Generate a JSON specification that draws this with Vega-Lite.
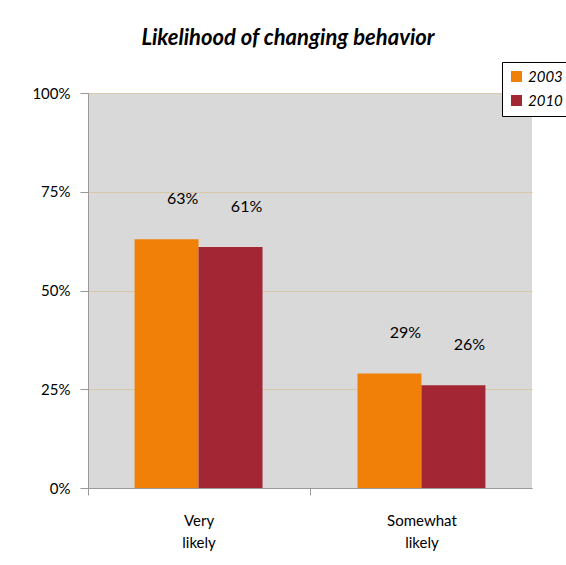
{
  "$schema": "https://vega.github.io/schema/vega-lite/v6.json",
  "autosize": "none",
  "width": 444,
  "height": 395,
  "padding": {"left": 88, "top": 93, "right": 34, "bottom": 77},
  "background": "white",
  "title": {
    "text": "Likelihood of changing behavior",
    "font": "Lato",
    "fontSize": 22,
    "fontWeight": "bold",
    "fontStyle": "italic",
    "color": "black",
    "anchor": "middle",
    "dx": -22,
    "offset": 12
  },
  "data": {
    "values": [
      {"category": "Very likely", "year": "2003", "value": 0.63, "label": "63%"},
      {"category": "Very likely", "year": "2010", "value": 0.61, "label": "61%"},
      {"category": "Somewhat likely", "year": "2003", "value": 0.29, "label": "29%"},
      {"category": "Somewhat likely", "year": "2010", "value": 0.26, "label": "26%"}
    ]
  },
  "encoding": {
    "x": {
      "field": "category",
      "type": "nominal",
      "sort": ["Very likely", "Somewhat likely"],
      "scale": {"paddingInner": 0.426, "paddingOuter": 0.209},
      "axis": {
        "title": null,
        "labelAngle": 0,
        "labelFont": "Lato",
        "labelFontSize": 15,
        "labelColor": "black",
        "labelPadding": 18,
        "labelExpr": "split(datum.label, ' ')",
        "labelLineHeight": 22,
        "tickOffset": -111,
        "labelOffset": 111,
        "tickColor": "#999999",
        "tickSize": 7,
        "domainColor": "#999999"
      }
    },
    "xOffset": {"field": "year", "type": "nominal", "sort": ["2003", "2010"]},
    "y": {
      "field": "value",
      "type": "quantitative",
      "scale": {"domain": [0, 1]},
      "axis": {
        "title": null,
        "values": [0, 0.25, 0.5, 0.75, 1],
        "format": ".0%",
        "labelFont": "Lato",
        "labelFontSize": 15,
        "labelColor": "black",
        "labelPadding": 10,
        "tickColor": "#999999",
        "tickSize": 8,
        "domainColor": "#999999",
        "gridColor": "#d8c8a8",
        "gridOpacity": 1,
        "gridWidth": 1
      }
    }
  },
  "layer": [
    {
      "mark": {"type": "bar"},
      "encoding": {
        "color": {
          "field": "year",
          "type": "nominal",
          "scale": {"domain": ["2003", "2010"], "range": ["#f08008", "#a22634"]},
          "legend": {
            "title": null,
            "orient": "none",
            "legendX": 414,
            "legendY": -31,
            "direction": "vertical",
            "symbolType": "square",
            "symbolSize": 120,
            "symbolStrokeWidth": 0,
            "labelFont": "Lato",
            "labelFontSize": 15,
            "labelFontStyle": "italic",
            "labelColor": "black",
            "fillColor": "white",
            "strokeColor": "black",
            "padding": 7,
            "rowPadding": 8
          }
        }
      }
    },
    {
      "mark": {"type": "text", "font": "Lato", "fontSize": 16, "color": "black", "dx": 16, "dy": -40, "baseline": "middle"},
      "encoding": {"text": {"field": "label"}}
    }
  ],
  "config": {
    "view": {"fill": "#d9d9d9", "stroke": null}
  }
}
